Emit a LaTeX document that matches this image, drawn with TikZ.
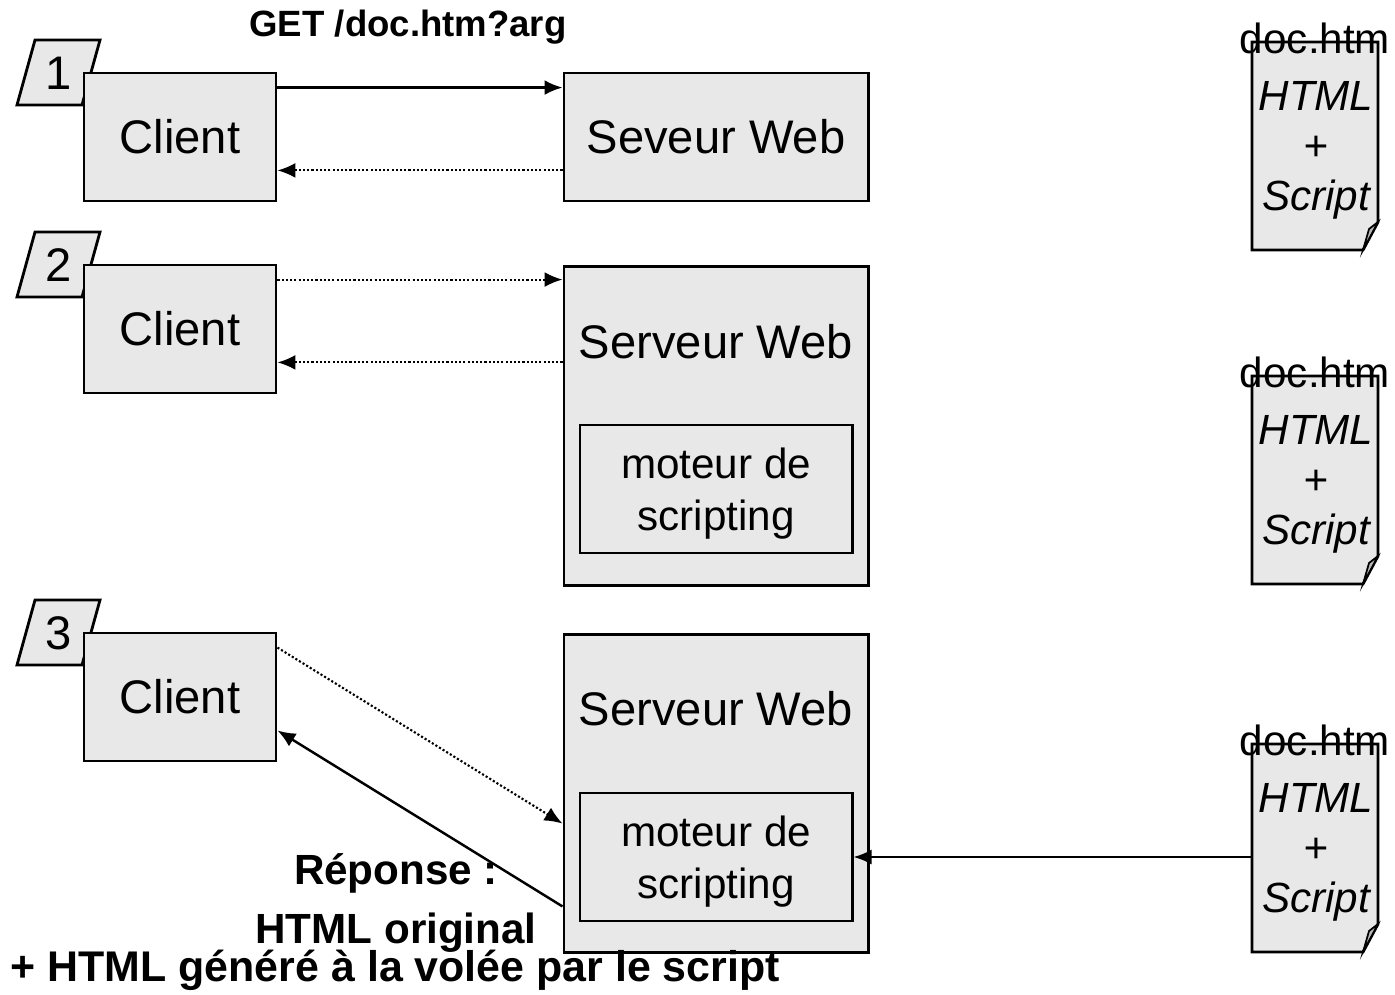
\documentclass[tikz,border=0pt]{standalone}
\usepackage{fontspec}
\setmainfont{Liberation Sans}
\usetikzlibrary{arrows.meta}

\definecolor{boxgray}{RGB}{232,232,232}

\tikzset{
  box/.style={draw, line width=0.8pt, fill=boxgray, inner sep=0pt},
  big/.style={font=\fontsize{13.4}{16}\selectfont},
  client/.style={box, big, minimum width=1.92cm, minimum height=1.28cm},
  server/.style={box, big, minimum width=3.04cm},
  engine/.style={box, minimum width=2.72cm, minimum height=1.28cm},
  enginetext/.style={inner sep=0pt, align=center, font=\fontsize{12}{14.8}\selectfont},
  docbox/.style={minimum width=1.26cm, minimum height=2.08cm, inner sep=0pt, align=center, font=\fontsize{12}{14.2}\selectfont\itshape},
  docname/.style={inner sep=0pt, font=\fontsize{12}{14}\selectfont},
  bold/.style={inner sep=0pt, font=\fontsize{12}{14}\selectfont\bfseries},
  req/.style={line width=0.7pt, -{Latex[length=1.8mm,width=1.5mm]}},
  reqdot/.style={req, line width=0.6pt, dash pattern=on 0.6pt off 0.6pt}
}

\begin{document}
\begin{tikzpicture}[x=0.01cm, y=-0.01cm]
\useasboundingbox (0,0) rectangle (1395,994);

% step tags
\foreach \i/\t in {1/40, 2/232, 3/600} {
  \draw[box] (35,\t) -- (100,\t) -- (82,\t+65) -- (17,\t+65) -- cycle;
  \node[big, inner sep=0pt] (tag\i) at (59,\t+33) {\i};
}

% clients
\node[client] (cl1) at (180,137) {Client};
\node[client] (cl2) at (180,329) {Client};
\node[client] (cl3) at (180,697) {Client};

% servers
\node[server, minimum height=1.28cm] (srv1) at (716,137) {Seveur Web};
\node[server, minimum height=3.19cm, anchor=north] (srv2) at (716,265) {};
\node[server, minimum height=3.18cm, anchor=north] (srv3) at (716,633) {};
\node[big] (lab2) at (716,342) {Serveur Web};
\node[big] (lab3) at (716,709) {Serveur Web};
\node[engine] (eng2) at (716,489) {};
\node[engine] (eng3) at (716,857) {};
\node[enginetext] (engtxt2) at (716,494) {moteur de\\scripting};
\node[enginetext] (engtxt3) at (716,862) {moteur de\\scripting};

% documents
\foreach \i/\t in {1/42, 2/376, 3/744} {
  \draw[box] (1252,\t) -- (1378,\t) -- (1378,\t+180) -- (1363,\t+208) -- (1252,\t+208) -- cycle;
  \draw[line width=0.5pt, fill=gray!55] (1378,\t+180) -- (1363,\t+208) -- (1369,\t+187) -- cycle;
  \node[docbox] (doc\i) at (1315,\t+104) {};
  \node[docbox, minimum size=0pt] (txt\i) at (1316,\t+108) {HTML\\+\\Script};
  \node[docname] (name\i) at (1315,\t-4) {doc.htm};
}

% requests and answers
\draw[req] ([yshift=-0.16cm]cl1.north east) -- ([yshift=-0.16cm]srv1.north west);
\draw[reqdot] ([yshift=0.32cm]srv1.south west) -- ([yshift=0.32cm]cl1.south east);
\node[bold, font=\fontsize{10.4}{12}\selectfont\bfseries] (get) at (408,27) {GET /doc.htm?arg};

\draw[reqdot] ([yshift=-0.16cm]cl2.north east) -- ([yshift=-0.16cm]cl2.north east -| srv2.west);
\draw[reqdot] ([yshift=0.32cm]cl2.south east -| srv2.west) -- ([yshift=0.32cm]cl2.south east);

\draw[reqdot] ([yshift=-0.16cm]cl3.north east) -- ([yshift=-0.32cm]eng3.north west -| srv3.west);
\draw[req] ([yshift=0.16cm]eng3.south west -| srv3.west) -- ([yshift=0.32cm]cl3.south east);
\draw[req] (doc3.west |- eng3.east) -- (eng3.east);

\node[bold] (rep) at (396,873) {Réponse :};
\node[bold] (orig) at (396,933) {HTML original};
\node[bold, anchor=west, font=\fontsize{12.2}{14}\selectfont\bfseries] (gen) at (10,970) {+ HTML généré à la volée par le script};

\end{tikzpicture}
\end{document}
